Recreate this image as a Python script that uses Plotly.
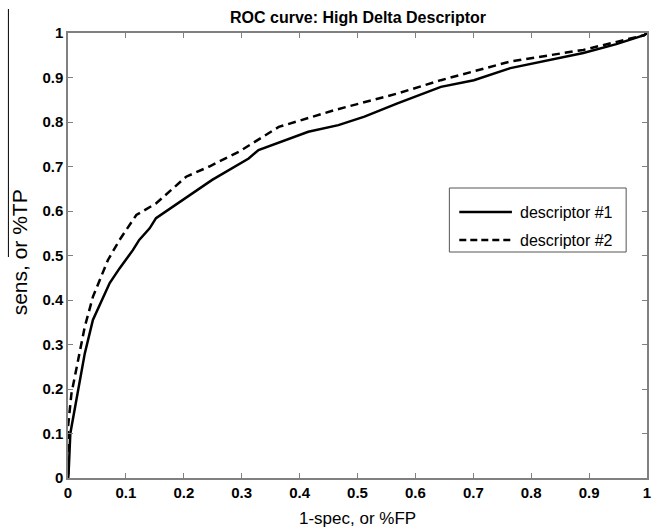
import plotly.graph_objects as go

# descriptor #1 (solid)
fpr1 = [0.0, 0.001, 0.004, 0.012, 0.02, 0.029, 0.043, 0.058, 0.072, 0.089, 0.112, 0.123,
        0.141, 0.152, 0.198, 0.249, 0.312, 0.329, 0.415, 0.467, 0.512, 0.569,
        0.644, 0.701, 0.764, 0.821, 0.89, 0.947, 0.995, 1.0]
tpr1 = [0.0, 0.01, 0.1, 0.16, 0.22, 0.28, 0.355, 0.40, 0.438, 0.471, 0.512, 0.535,
        0.561, 0.584, 0.625, 0.670, 0.718, 0.737, 0.778, 0.793, 0.812, 0.842,
        0.879, 0.894, 0.921, 0.936, 0.955, 0.975, 0.995, 1.0]

# descriptor #2 (dashed)
fpr2 = [0.0, 0.0, 0.006, 0.012, 0.02, 0.029, 0.043, 0.069, 0.089, 0.118, 0.152, 0.204,
        0.244, 0.295, 0.364, 0.461, 0.569, 0.644, 0.764, 0.89, 0.995, 1.0]
tpr2 = [0.0, 0.115, 0.19, 0.228, 0.28, 0.34, 0.407, 0.49, 0.535, 0.591, 0.617, 0.677,
        0.70, 0.733, 0.789, 0.827, 0.864, 0.894, 0.936, 0.962, 0.995, 1.0]

series_names = ["descriptor #1", "descriptor #2"]

ticks = [0, 0.1, 0.2, 0.3, 0.4, 0.5, 0.6, 0.7, 0.8, 0.9, 1]
tick_text = ["0", "0.1", "0.2", "0.3", "0.4", "0.5", "0.6", "0.7", "0.8", "0.9", "1"]

FONT = "Liberation Sans, Arial, Helvetica"
DASH = "8px,5px"

fig = go.Figure()
fig.add_trace(go.Scatter(x=fpr1, y=tpr1, mode="lines", name=series_names[0],
                         line=dict(color="black", width=2.5), showlegend=False))
fig.add_trace(go.Scatter(x=fpr2, y=tpr2, mode="lines", name=series_names[1],
                         line=dict(color="black", width=2.5, dash=DASH), showlegend=False))

axis_common = dict(range=[0, 1], tickmode="array", tickvals=ticks,
                   ticktext=["<b>%s</b>" % t for t in tick_text],
                   ticks="inside", ticklen=5, tickcolor="#808080", showline=True,
                   linecolor="#808080", linewidth=1.5, mirror="ticks", showgrid=False,
                   zeroline=False, ticklabeloverflow="allow",
                   tickfont=dict(family=FONT, size=15, color="black"))

# plot-area geometry (px) used to place the legend box in paper coordinates
L, T, W, H = 68, 33, 583, 445
def px(xp):
    return (xp - L) / W
def py(yp):
    return (T + H - yp) / H

shapes = [
    # stray overline next to the y label (as in the reference image)
    dict(type="line", xref="paper", yref="paper", x0=px(8), x1=px(8),
         y0=py(9), y1=py(257), line=dict(color="black", width=1)),
    # legend box
    dict(type="rect", xref="paper", yref="paper", x0=px(452), x1=px(630),
         y0=py(252), y1=py(188), line=dict(color="#555555", width=1), fillcolor="white"),
    dict(type="line", xref="paper", yref="paper", x0=px(462), x1=px(515),
         y0=py(212), y1=py(212), line=dict(color="black", width=2.5)),
    dict(type="line", xref="paper", yref="paper", x0=px(462), x1=px(515),
         y0=py(240), y1=py(240), line=dict(color="black", width=2.5, dash="7px,4px")),
]

annotations = [
    dict(text="<b>ROC curve: High Delta Descriptor</b>", x=0.5, y=1, xref="paper",
         yref="paper", xanchor="center", yanchor="bottom", yshift=5, showarrow=False,
         font=dict(family=FONT, size=16, color="black")),
    dict(text="1-spec, or %FP", x=0.5, y=0, xref="paper", yref="paper",
         xanchor="center", yanchor="top", yshift=-29, showarrow=False,
         font=dict(family=FONT, size=17, color="black")),
    dict(text="sens, or %TP", x=px(19), y=py(252), xref="paper", yref="paper", textangle=-90,
         xanchor="center", yanchor="middle", showarrow=False,
         font=dict(family=FONT, size=21, color="black")),
    dict(text=series_names[0], x=px(521), y=py(212), xref="paper", yref="paper",
         xanchor="left", yanchor="middle", showarrow=False,
         font=dict(family=FONT, size=16, color="black")),
    dict(text=series_names[1], x=px(521), y=py(240), xref="paper", yref="paper",
         xanchor="left", yanchor="middle", showarrow=False,
         font=dict(family=FONT, size=16, color="black")),
]

fig.update_layout(
    width=653, height=532,
    margin=dict(l=L, r=653 - L - W, t=T, b=532 - T - H),
    paper_bgcolor="white", plot_bgcolor="white",
    showlegend=False,
    xaxis=dict(**axis_common),
    yaxis=dict(**axis_common),
    annotations=annotations,
    shapes=shapes,
)

fig.write_html("out.html")
